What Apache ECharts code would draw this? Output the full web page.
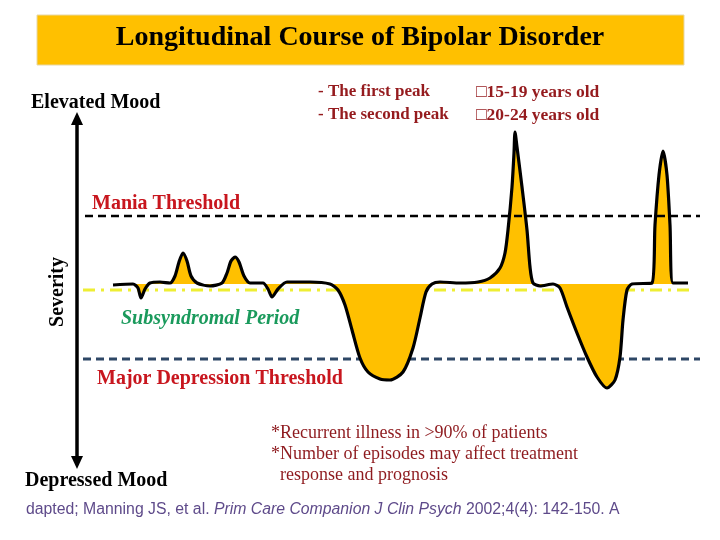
<!DOCTYPE html>
<html>
<head>
<meta charset="utf-8">
<script src="https://cdn.jsdelivr.net/npm/echarts@6/dist/echarts.min.js"></script>
<style>html,body{margin:0;padding:0;background:#fff}#c{width:720px;height:540px}</style>
</head>
<body>
<div id="c"></div>
<script>
// ---- Data (time in arbitrary units, severity relative to euthymic baseline) ----
const timePoints = [6.6,10.6,11.6,12.2,13,14,16,18,19,19.8,20.6,21.4,22.2,23.4,26,28.4,29.4,30.2,31,31.8,32.8,34,36.6,37.6,38.4,39.6,41.4,46,50,51.6,53,54.4,56,57.6,60,62,64.6,66.6,68,69.2,70.4,72,76,79.6,82,84,85,85.6,86.4,86.8,87,87.4,88.4,89.4,90,90.6,92,94.6,96,97.4,99.4,101.4,103.4,105.4,107,108,108.6,109.4,110.4,114.4,115,115.8,116.6,117.4,118,118.6,121.6];
const severity   = [-0.1,0,-0.4,-1.4,-0.5,0.1,0.2,0.1,0.8,2.2,3.1,2.3,0.8,0.1,-0.2,0.1,1.1,2.3,2.7,2.2,0.8,0.1,0.1,-0.5,-1.3,-0.5,0.2,0.2,0,-0.6,-2.1,-4.6,-7.4,-8.8,-9.5,-9.6,-8.8,-6.4,-3.4,-0.8,0,0.2,0.1,0.2,0.6,1.6,3.1,5.4,9.7,13.1,15.2,13.7,9.7,5.4,1.7,0.1,-0.2,0,-0.4,-2.3,-4.9,-7.3,-9.3,-10.4,-9.6,-7.3,-3.6,-0.6,0,0.1,5.9,10.9,13.3,10.9,5.9,0.1,0.1];
const maniaLine      = [[1, 6.8], [124, 6.8]];
const subsyndromLine = [[0.6, -0.6], [123, -0.6]];
const depressionLine = [[0.6, -7.5], [124, -7.5]];
const titleText = 'Longitudinal Course of Bipolar Disorder';
const peakLabels = ['- The first peak', '- The second peak'];
const peakAges = ['\u25A115-19 years old', '\u25A120-24 years old'];
const notes = ['*Recurrent illness in >90% of patients', '*Number of episodes may affect treatment', '  response and prognosis'];

const serif = "'Liberation Serif','Times New Roman',serif";
const chart = echarts.init(document.getElementById('c'));
const txt = (text, x, y, font, fill, extra) => ({
  type: 'text', z: 10,
  style: Object.assign({ text, x, y, font, fill, textAlign: 'left', textVerticalAlign: 'middle' }, extra || {})
});

chart.setOption({
  animation: false,
  backgroundColor: '#fff',
  grid: { left: 80, right: 20, top: 104, bottom: 76 },
  xAxis: { type: 'value', min: 0, max: 124, show: false },
  yAxis: { type: 'value', min: -18, max: 18, show: false },
  series: [
    { type: 'line', data: subsyndromLine, symbol: 'none', z: 1, silent: true,
      lineStyle: { color: '#EEEE33', width: 3, type: [12, 6, 3, 6] } },
    { type: 'line', data: depressionLine, symbol: 'none', z: 1, silent: true,
      lineStyle: { color: '#2E4766', width: 3, type: [8, 5] } },
    { type: 'line', data: timePoints.map((t, i) => [t, severity[i]]), symbol: 'none', smooth: 0.25, z: 3,
      lineStyle: { color: '#000', width: 3.2 },
      areaStyle: { color: '#FFC000', opacity: 1, origin: 0 } },
    { type: 'line', data: maniaLine, symbol: 'none', z: 4, silent: true,
      lineStyle: { color: '#000', width: 2.5, type: [8, 5] } }
  ],
  graphic: [
    { type: 'rect', z: 5, shape: { x: 37, y: 15, width: 647, height: 50 },
      style: { fill: '#FFC000', stroke: '#E6D7A6', lineWidth: 1 } },
    txt(titleText, 360, 38, 'bold 28px ' + serif, '#000', { textAlign: 'center' }),
    txt('Elevated Mood', 31, 103, 'bold 20px ' + serif, '#000'),
    txt('Depressed Mood', 25, 481, 'bold 20px ' + serif, '#000'),
    txt(peakLabels[0], 318, 92, 'bold 17px ' + serif, '#951B1E'),
    txt(peakLabels[1], 318, 115, 'bold 17px ' + serif, '#951B1E'),
    txt(peakAges[0], 476, 92, 'bold 17.5px ' + serif, '#951B1E'),
    txt(peakAges[1], 476, 115, 'bold 17.5px ' + serif, '#951B1E'),
    txt('Mania Threshold', 92, 204, 'bold 20px ' + serif, '#C8161E'),
    txt('Subsyndromal Period', 121, 319, 'italic bold 20px ' + serif, '#1A9A5C'),
    txt('Major Depression Threshold', 97, 379, 'bold 20px ' + serif, '#C8161E'),
    txt(notes[0], 271, 433, '18px ' + serif, '#8E1A1E'),
    txt(notes[1], 271, 454, '18px ' + serif, '#8E1A1E'),
    txt(notes[2], 271, 475, '18px ' + serif, '#8E1A1E'),
    { type: 'text', z: 10, x: 58, y: 292, rotation: Math.PI / 2,
      style: { text: 'Severity', font: 'bold 20px ' + serif, fill: '#000', textAlign: 'center', textVerticalAlign: 'middle' } },
    { type: 'text', z: 10,
      style: { x: 26, y: 510, textVerticalAlign: 'middle', textAlign: 'left',
        text: '{n|dapted; Manning JS, et al. }{i|Prim Care Companion J Clin Psych}{n| 2002;4(4): 142-150. A}',
        rich: {
          n: { fontFamily: "'Liberation Sans',Arial,sans-serif", fontSize: 15.8, fill: '#5E4A8A', color: '#5E4A8A' },
          i: { fontFamily: "'Liberation Sans',Arial,sans-serif", fontSize: 15.8, fontStyle: 'italic', fill: '#5E4A8A', color: '#5E4A8A' }
        } } },
    { type: 'line', z: 10, shape: { x1: 77, y1: 120, x2: 77, y2: 461 }, style: { stroke: '#000', lineWidth: 3.5 } },
    { type: 'polygon', z: 10, shape: { points: [[77, 112], [71, 125], [83, 125]] }, style: { fill: '#000' } },
    { type: 'polygon', z: 10, shape: { points: [[77, 469], [71, 456], [83, 456]] }, style: { fill: '#000' } }
  ]
});
</script>
</body>
</html>
